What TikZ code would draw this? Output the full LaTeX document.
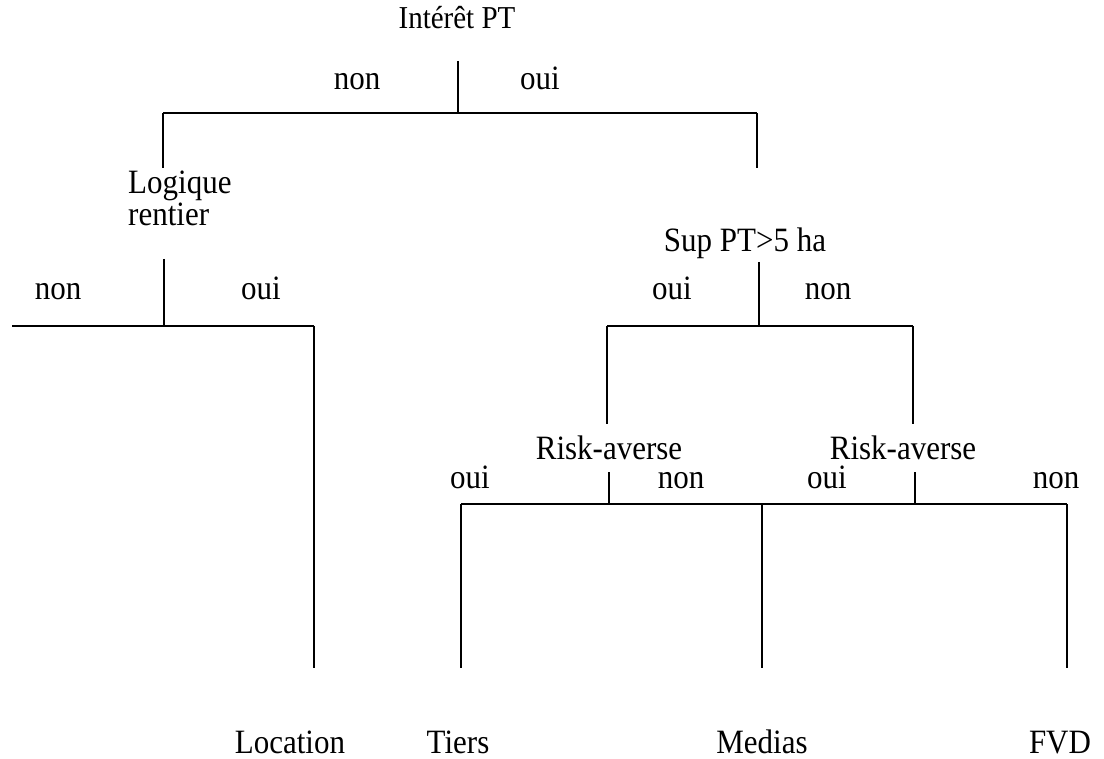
\documentclass[tikz,border=0pt]{standalone}
\usepackage{fontspec}
\setmainfont{Liberation Serif}
\begin{document}
\begin{tikzpicture}[x=1pt,y=-1pt,
  txt/.style={font=\fontsize{31}{40}\selectfont, inner sep=0pt, anchor=base,
              yscale=1.1, transform shape},
  branch/.style={line width=2.2pt, line cap=butt},
  stem/.style={line width=1.7pt}]
\useasboundingbox[fill=white] (0,0) rectangle (1104,759);

% decision nodes
\node[txt, font=\fontsize{29}{36}\selectfont] (q0) at (457,29) {Intérêt PT};
\node[txt, anchor=base west] (q1) at (128,194) {Logique};
\node[txt, anchor=base west] (q1b) at (128,226) {rentier};
\node[txt] (q2) at (745,252) {Sup PT>5 ha};
\node[txt] (q3) at (609,460) {Risk-averse};
\node[txt] (q4) at (903,460) {Risk-averse};

% outcomes
\node[txt] (l1) at (290,753) {Location};
\node[txt] (l2) at (458,753) {Tiers};
\node[txt] (l3) at (762,753) {Medias};
\node[txt] (l4) at (1060,753) {FVD};

% branch labels
\node[txt] (b0n) at (357,90) {non};
\node[txt] (b0o) at (540,90) {oui};
\node[txt] (b1n) at (58,300) {non};
\node[txt] (b1o) at (261,300) {oui};
\node[txt] (b2o) at (672,300) {oui};
\node[txt] (b2n) at (828,300) {non};
\node[txt] (b3o) at (470,489) {oui};
\node[txt] (b3n) at (681,489) {non};
\node[txt] (b4o) at (827,489) {oui};
\node[txt] (b4n) at (1056,489) {non};

% junction points
\coordinate (s0) at (458,61);   \coordinate (j0) at (458,113);
\coordinate (j0l) at (163,113); \coordinate (j0r) at (757,113);
\coordinate (e0l) at (163,168); \coordinate (e0r) at (757,168);

\coordinate (s1) at (164,259);  \coordinate (j1) at (164,326);
\coordinate (j1l) at (12,326);  \coordinate (j1r) at (314,326);
\coordinate (e1r) at (314,668);

\coordinate (s2) at (759,262);  \coordinate (j2) at (759,326);
\coordinate (j2l) at (607,326); \coordinate (j2r) at (913,326);
\coordinate (e2l) at (607,424); \coordinate (e2r) at (913,424);

\coordinate (s3) at (609,472);  \coordinate (j3) at (609,504);
\coordinate (s4) at (915,472);  \coordinate (j4) at (915,504);
\coordinate (j5l) at (461,504); \coordinate (j5m) at (762,504);
\coordinate (j5r) at (1067,504);
\coordinate (e5l) at (461,668); \coordinate (e5m) at (762,668);
\coordinate (e5r) at (1067,668);

% level 0
\draw[stem] (s0) -- (j0);
\draw[branch] (j0l) -- (j0r);
\draw[stem] (j0l) -- (e0l);
\draw[stem] (j0r) -- (e0r);

% level 1, left
\draw[stem] (s1) -- (j1);
\draw[branch] (j1l) -- (j1r);
\draw[stem] (j1r) -- (e1r);

% level 1, right
\draw[stem] (s2) -- (j2);
\draw[branch] (j2l) -- (j2r);
\draw[stem] (j2l) -- (e2l);
\draw[stem] (j2r) -- (e2r);

% level 2
\draw[stem] (s3) -- (j3);
\draw[stem] (s4) -- (j4);
\draw[branch] (j5l) -- (j5r);
\draw[stem] (j5l) -- (e5l);
\draw[stem] (j5m) -- (e5m);
\draw[stem] (j5r) -- (e5r);
\end{tikzpicture}
\end{document}
